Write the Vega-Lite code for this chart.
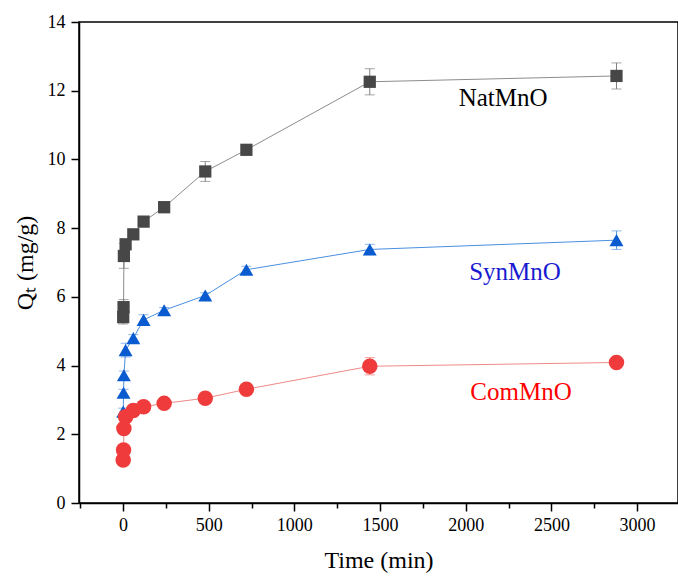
{
  "$schema": "https://vega.github.io/schema/vega-lite/v6.json",
  "width": 599,
  "height": 481,
  "autosize": {"type": "none"},
  "padding": {"left": 79, "top": 22, "right": 0, "bottom": 76},
  "background": "white",
  "config": {
    "view": {"stroke": "#000", "strokeWidth": 1.5},
    "font": "Liberation Serif",
    "axis": {
      "labelFont": "Liberation Serif",
      "titleFont": "Liberation Serif",
      "labelFontSize": 18,
      "titleFontSize": 24,
      "titleFontWeight": "normal",
      "labelColor": "#000",
      "titleColor": "#000",
      "domainColor": "#000",
      "domainWidth": 1.5,
      "tickColor": "#000",
      "tickWidth": 1.5,
      "grid": false
    }
  },
  "datasets": {
    "kin": [
      {"series": "NatMnO", "t": 1, "q": 5.41, "err": 0.2},
      {"series": "NatMnO", "t": 3, "q": 5.70, "err": 0.22},
      {"series": "NatMnO", "t": 5, "q": 7.19, "err": 0.36},
      {"series": "NatMnO", "t": 15, "q": 7.53, "err": 0.1},
      {"series": "NatMnO", "t": 60, "q": 7.82, "err": 0.08},
      {"series": "NatMnO", "t": 120, "q": 8.19, "err": 0.08},
      {"series": "NatMnO", "t": 240, "q": 8.61, "err": 0.16},
      {"series": "NatMnO", "t": 480, "q": 9.65, "err": 0.29},
      {"series": "NatMnO", "t": 720, "q": 10.28, "err": 0.08},
      {"series": "NatMnO", "t": 1440, "q": 12.26, "err": 0.38},
      {"series": "NatMnO", "t": 2880, "q": 12.43, "err": 0.38},
      {"series": "SynMnO", "t": 1, "q": 2.66, "err": 0.1},
      {"series": "SynMnO", "t": 3, "q": 3.21, "err": 0.1},
      {"series": "SynMnO", "t": 5, "q": 3.72, "err": 0.12},
      {"series": "SynMnO", "t": 15, "q": 4.45, "err": 0.2},
      {"series": "SynMnO", "t": 60, "q": 4.80, "err": 0.1},
      {"series": "SynMnO", "t": 120, "q": 5.33, "err": 0.15},
      {"series": "SynMnO", "t": 240, "q": 5.61, "err": 0.08},
      {"series": "SynMnO", "t": 480, "q": 6.04, "err": 0.08},
      {"series": "SynMnO", "t": 720, "q": 6.79, "err": 0.1},
      {"series": "SynMnO", "t": 1440, "q": 7.38, "err": 0.15},
      {"series": "SynMnO", "t": 2880, "q": 7.65, "err": 0.27},
      {"series": "ComMnO", "t": 1, "q": 1.25, "err": 0.05},
      {"series": "ComMnO", "t": 3, "q": 1.54, "err": 0.05},
      {"series": "ComMnO", "t": 5, "q": 2.17, "err": 0.08},
      {"series": "ComMnO", "t": 15, "q": 2.51, "err": 0.08},
      {"series": "ComMnO", "t": 60, "q": 2.69, "err": 0.08},
      {"series": "ComMnO", "t": 120, "q": 2.80, "err": 0.1},
      {"series": "ComMnO", "t": 240, "q": 2.90, "err": 0.08},
      {"series": "ComMnO", "t": 480, "q": 3.05, "err": 0.08},
      {"series": "ComMnO", "t": 720, "q": 3.31, "err": 0.1},
      {"series": "ComMnO", "t": 1440, "q": 3.98, "err": 0.25},
      {"series": "ComMnO", "t": 2880, "q": 4.09, "err": 0.12}
    ],
    "labels": [
      {"series": "NatMnO", "t": 2218, "q": 11.79},
      {"series": "SynMnO", "t": 2288, "q": 6.72},
      {"series": "ComMnO", "t": 2323, "q": 3.23}
    ]
  },
  "resolve": {"scale": {"color": "independent"}, "axis": {"x": "independent"}},
  "layer": [
    {
      "data": {"name": "kin"},
      "mark": {"type": "line", "strokeWidth": 1},
      "encoding": {
        "x": {"field": "t", "type": "quantitative", "scale": {"domain": [-257, 3239], "nice": false, "zero": false},
              "axis": {"orient": "bottom", "values": [0, 500, 1000, 1500, 2000, 2500, 3000], "format": "d", "tickSize": 8, "labelPadding": 5,
                       "title": "Time (min)", "titlePadding": 14, "titleFontWeight": "normal"}},
        "y": {"field": "q", "type": "quantitative", "title": "Qₜ (mg/g)", "scale": {"domain": [0, 14], "nice": false},
              "axis": {"values": [0, 2, 4, 6, 8, 10, 12, 14], "tickSize": 8, "labelPadding": 6, "titlePadding": 10, "titleFontWeight": "normal"}},
        "color": {"field": "series", "type": "nominal", "legend": null,
                  "scale": {"domain": ["NatMnO", "SynMnO", "ComMnO"], "range": ["#8c8c8c", "#4a8fe0", "#f08888"]}},
        "order": {"field": "t", "type": "quantitative"}
      }
    },
    {
      "data": {"name": "kin"},
      "mark": {"type": "errorbar", "ticks": {"size": 10, "thickness": 1}, "rule": {"strokeWidth": 1}},
      "encoding": {
        "x": {"field": "t", "type": "quantitative", "axis": null},
        "y": {"field": "q", "type": "quantitative", "title": "Qₜ (mg/g)"},
        "yError": {"field": "err"},
        "color": {"field": "series", "type": "nominal", "legend": null,
                  "scale": {"domain": ["NatMnO", "SynMnO", "ComMnO"], "range": ["#7f7f7f", "#5a9ae6", "#f07070"]}}
      }
    },
    {
      "data": {"name": "kin"},
      "mark": {"type": "point", "filled": true, "opacity": 1},
      "encoding": {
        "x": {"field": "t", "type": "quantitative",
              "axis": {"orient": "bottom", "values": [-250, 250, 750, 1250, 1750, 2250, 2750, 3250], "tickSize": 5, "labels": false, "domain": false, "title": null}},
        "y": {"field": "q", "type": "quantitative", "title": "Qₜ (mg/g)"},
        "shape": {"field": "series", "type": "nominal", "legend": null,
                  "scale": {"domain": ["NatMnO", "SynMnO", "ComMnO"], "range": ["square", "triangle-up", "circle"]}},
        "size": {"field": "series", "type": "nominal", "legend": null,
                 "scale": {"domain": ["NatMnO", "SynMnO", "ComMnO"], "range": [150, 240, 140]}},
        "color": {"field": "series", "type": "nominal", "legend": null,
                  "scale": {"domain": ["NatMnO", "SynMnO", "ComMnO"], "range": ["#474747", "#0a5bd0", "#ef3b3b"]}}
      }
    },
    {
      "data": {"name": "labels"},
      "mark": {"type": "text", "font": "Liberation Serif", "fontSize": 25, "align": "center", "baseline": "middle"},
      "encoding": {
        "x": {"field": "t", "type": "quantitative", "axis": null},
        "y": {"field": "q", "type": "quantitative", "title": "Qₜ (mg/g)"},
        "text": {"field": "series"},
        "color": {"field": "series", "type": "nominal", "legend": null,
                  "scale": {"domain": ["NatMnO", "SynMnO", "ComMnO"], "range": ["#000000", "#1a1ad0", "#ff0000"]}}
      }
    }
  ]
}
